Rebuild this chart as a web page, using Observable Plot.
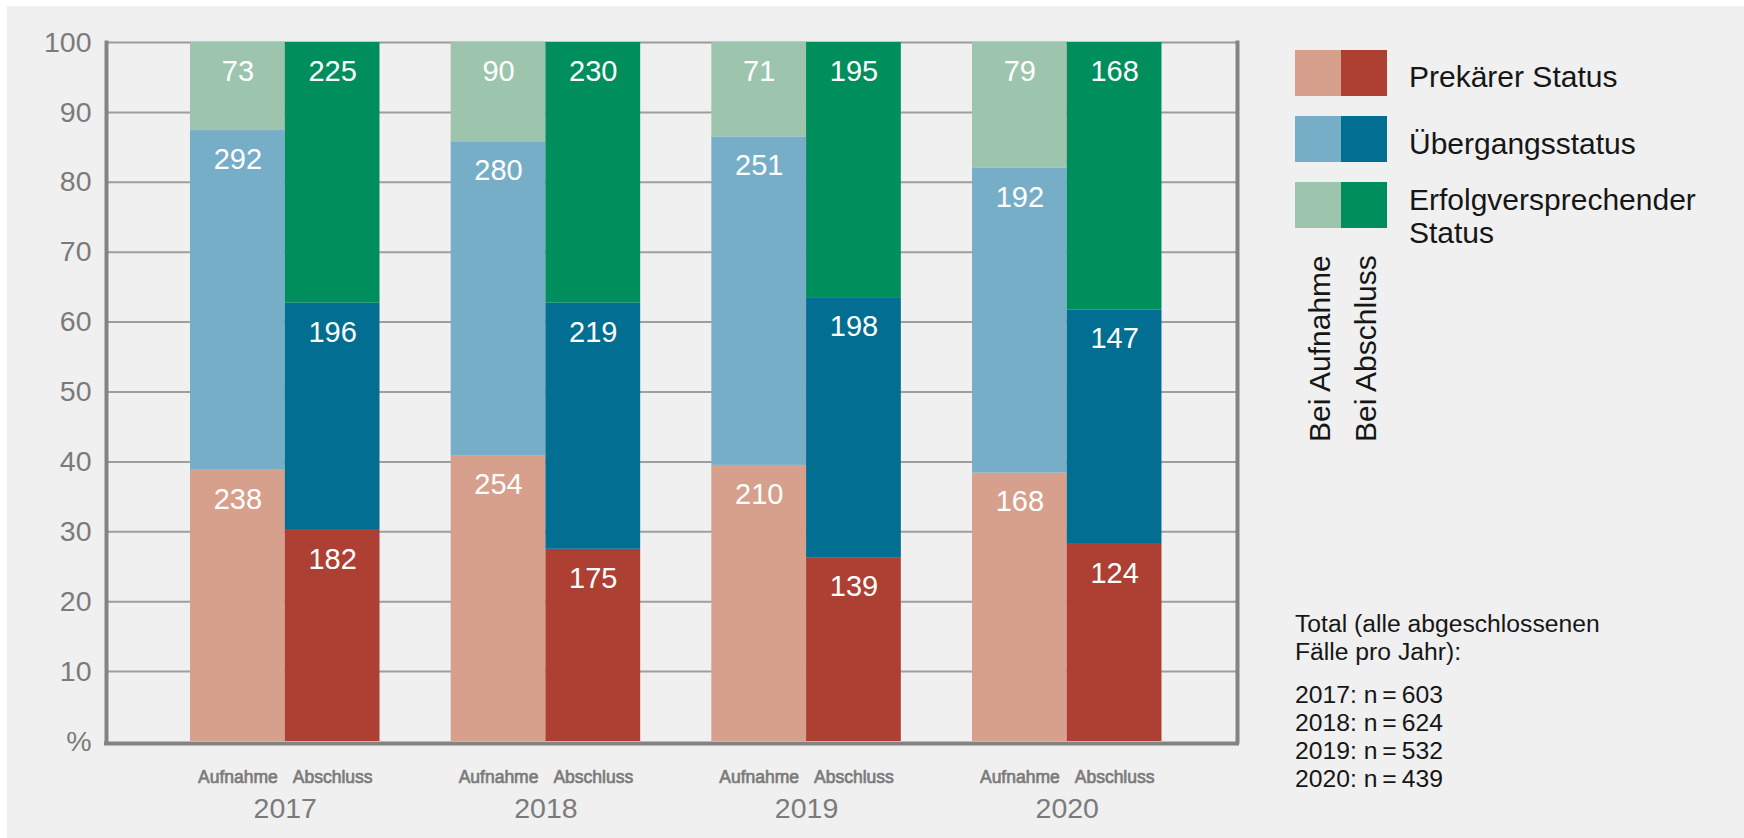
<!DOCTYPE html>
<html>
<head>
<meta charset="utf-8">
<script src="https://cdn.jsdelivr.net/npm/d3@7"></script>
<script src="https://cdn.jsdelivr.net/npm/@observablehq/plot@0.6"></script>
<style>
html, body { margin: 0; padding: 0; background: #ffffff; }
body { width: 1744px; height: 838px; overflow: hidden; position: relative;
  font-family: "Liberation Sans", Arial, Helvetica, sans-serif; }
#panel { position: absolute; left: 7px; top: 6px; width: 1737px; height: 832px; background: #f0f0f0; }
#chart { position: absolute; left: 0; top: 0; }
.sw { position: absolute; width: 46px; height: 46px; }
.lab { position: absolute; left: 1402px; width: 300px; font-size: 30px; line-height: 33px; color: #161616; }
.rot { position: absolute; font-size: 30px; line-height: 30px; color: #161616; white-space: nowrap;
  transform-origin: 0 0; transform: rotate(-90deg); }
.note { position: absolute; left: 1288px; font-size: 24.7px; line-height: 28px; color: #161616; white-space: nowrap; }
</style>
</head>
<body>
<div id="panel">
  <div id="chart"></div>
  <div id="legend"></div>
</div>
<script>
// ---------- data ----------
const years = ["2017", "2018", "2019", "2020"];
const stages = ["Aufnahme", "Abschluss"];
const statuses = ["Prekärer Status", "Übergangsstatus", "Erfolgversprechender Status"];

// case counts (bar labels)
const prekaerAufnahme    = [238, 254, 210, 168];
const uebergangAufnahme  = [292, 280, 251, 192];
const erfolgAufnahme     = [73, 90, 71, 79];
const prekaerAbschluss   = [182, 175, 139, 124];
const uebergangAbschluss = [196, 219, 198, 147];
const erfolgAbschluss    = [225, 230, 195, 168];

// segment heights in %
const prekaerAufnahmePct    = [38.8, 40.9, 39.5, 38.4];
const uebergangAufnahmePct  = [48.6, 44.9, 47.0, 43.6];
const erfolgAufnahmePct     = [12.6, 14.2, 13.5, 18.0];
const prekaerAbschlussPct   = [30.2, 27.5, 26.3, 28.2];
const uebergangAbschlussPct = [32.5, 35.2, 37.2, 33.5];
const erfolgAbschlussPct    = [37.3, 37.3, 36.5, 38.3];

const totals = [603, 624, 532, 439];

const colorsAufnahme  = ["#d6a08c", "#76aec8", "#9dc5ae"];
const colorsAbschluss = ["#ae4033", "#026e91", "#008f5c"];

const yTicks      = [0, 10, 20, 30, 40, 50, 60, 70, 80, 90, 100];
const yTickLabels = ["%", "10", "20", "30", "40", "50", "60", "70", "80", "90", "100"];

const legendSideLabels = ["Bei Aufnahme", "Bei Abschluss"];
const totalsTitle = ["Total (alle abgeschlossenen", "Fälle pro Jahr):"];

// ---------- table ----------
const countsByStage = {
  Aufnahme: [prekaerAufnahme, uebergangAufnahme, erfolgAufnahme],
  Abschluss: [prekaerAbschluss, uebergangAbschluss, erfolgAbschluss]
};
const pctByStage = {
  Aufnahme: [prekaerAufnahmePct, uebergangAufnahmePct, erfolgAufnahmePct],
  Abschluss: [prekaerAbschlussPct, uebergangAbschlussPct, erfolgAbschlussPct]
};
function rowsFor(stage) {
  return years.flatMap((year, i) => statuses.map((status, j) => ({
    year, stage, status,
    count: countsByStage[stage][j][i],
    share: pctByStage[stage][j][i]
  })));
}
const rowsA = rowsFor("Aufnahme");
const rowsB = rowsFor("Abschluss");
const stageRows = years.flatMap(year => stages.map(stage => ({ year, stage })));

const colorDomain = stages.flatMap(st => statuses.map(s => st + "|" + s));
const colorRange = [...colorsAufnahme, ...colorsAbschluss];

// ---------- layout ----------
const W = 1260, H = 832, ML = 99, MR = 30, MT = 36, MB = 97;
const xOpts = { type: "band", domain: years, paddingInner: 0.273, paddingOuter: 0.306, align: 0.5266, round: false };
const bw = Plot.scale({ x: { ...xOpts, range: [ML, W - MR] } }).bandwidth;
const half = bw / 2;
const quarter = bw / 4;
const grey = "#7b7b7b";
const lineGrey = "#838383";

const chart = Plot.plot({
  width: W, height: H,
  marginLeft: ML, marginRight: MR, marginTop: MT, marginBottom: MB,
  style: { background: "transparent", fontFamily: "'Liberation Sans', Arial, Helvetica, sans-serif", overflow: "visible" },
  x: { ...xOpts, label: null, axis: null },
  y: { domain: [0, 100], label: null, axis: null },
  color: { domain: colorDomain, range: colorRange },
  marks: [
    Plot.gridY(yTicks.filter(t => t > 0 && t < 100), { stroke: "#9e9e9e", strokeOpacity: 1, strokeWidth: 2 }),
    Plot.ruleY([100], { stroke: "#9a9a9a", strokeWidth: 2 }),
    Plot.barY(rowsA, Plot.stackY({ x: "year", y: "share", z: "status", fill: d => d.stage + "|" + d.status, insetRight: half })),
    Plot.barY(rowsB, Plot.stackY({ x: "year", y: "share", z: "status", fill: d => d.stage + "|" + d.status, insetLeft: half })),
    Plot.text(rowsA, Plot.stackY2({ x: "year", y: "share", z: "status", text: d => String(d.count), dx: -quarter, dy: 29, fill: "white", fontSize: 29, lineAnchor: "middle" })),
    Plot.text(rowsB, Plot.stackY2({ x: "year", y: "share", z: "status", text: d => String(d.count), dx: quarter, dy: 29, fill: "white", fontSize: 29, lineAnchor: "middle" })),
    Plot.frame({ anchor: "left", stroke: lineGrey, strokeWidth: 4 }),
    Plot.frame({ anchor: "right", stroke: lineGrey, strokeWidth: 4 }),
    Plot.ruleY([0], { stroke: lineGrey, strokeWidth: 4, dy: 2, insetLeft: -2, insetRight: -2 }),
    Plot.axisY(yTicks, { tickSize: 0, tickPadding: 15, fontSize: 28.5, color: grey, label: null,
      tickFormat: d => yTickLabels[yTicks.indexOf(d)] }),
    Plot.axisX({ tickSize: 0, tickPadding: 56, fontSize: 28.5, color: grey, label: null }),
    Plot.text(stageRows.filter(d => d.stage === "Aufnahme"), { x: "year", text: "stage", frameAnchor: "bottom", lineAnchor: "bottom", dy: 41, dx: -quarter, fontSize: 17.5, fill: grey, stroke: grey, strokeWidth: 0.7 }),
    Plot.text(stageRows.filter(d => d.stage === "Abschluss"), { x: "year", text: "stage", frameAnchor: "bottom", lineAnchor: "bottom", dy: 41, dx: quarter, fontSize: 17.5, fill: grey, stroke: grey, strokeWidth: 0.7 })
  ]
});
document.getElementById("chart").appendChild(chart);

// ---------- legend (HTML) ----------
const legend = document.getElementById("legend");
const swLeft = 1288, swTop0 = 44, swStep = 66;
const labelTopOffsets = [10.1, 11.1, 1.1];
statuses.forEach((s, i) => {
  const top = swTop0 + swStep * i;
  [colorsAufnahme[i], colorsAbschluss[i]].forEach((c, k) => {
    const d = document.createElement("div");
    d.className = "sw";
    d.style.left = (swLeft + 46 * k) + "px";
    d.style.top = top + "px";
    d.style.background = c;
    legend.appendChild(d);
  });
  const l = document.createElement("div");
  l.className = "lab";
  l.style.top = (top + labelTopOffsets[i]) + "px";
  l.textContent = s;
  legend.appendChild(l);
});
legendSideLabels.forEach((t, k) => {
  const r = document.createElement("div");
  r.className = "rot";
  r.style.left = (1297.6 + 46.7 * k) + "px";
  r.style.top = "436px";
  r.textContent = t;
  legend.appendChild(r);
});
const n1 = document.createElement("div");
n1.className = "note";
n1.style.top = "603.5px";
n1.innerHTML = totalsTitle.join("<br>");
legend.appendChild(n1);
const n2 = document.createElement("div");
n2.className = "note";
n2.style.top = "674.5px";
n2.innerHTML = years.map((y, i) => `${y}: n\u2009=\u2009${totals[i]}`).join("<br>");
legend.appendChild(n2);
</script>
</body>
</html>
